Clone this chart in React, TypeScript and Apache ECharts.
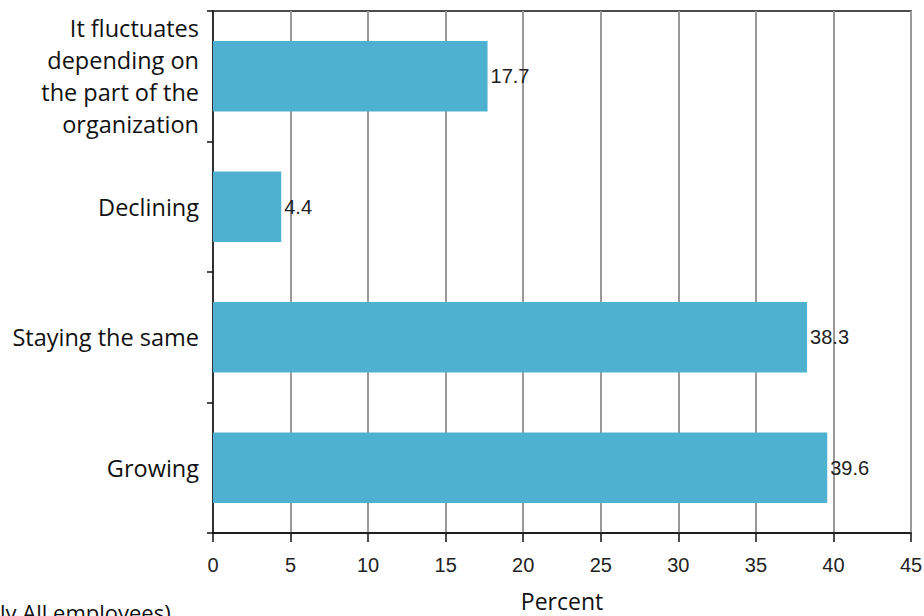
import React, { useEffect, useRef } from "react";
import * as echarts from "echarts";

const categories = [
  "Growing",
  "Staying the same",
  "Declining",
  "It fluctuates\ndepending on\nthe part of the\norganization",
];
const values = [39.6, 38.3, 4.4, 17.7];
const xTicks = { min: 0, max: 45, interval: 5 };
const axisTitle = "Percent";
const footnote = "ly All employees)";

export default function App() {
  const ref = useRef<HTMLDivElement>(null);
  useEffect(() => {
    document.body.style.margin = "0";
    const chart = echarts.init(ref.current!, null, { renderer: "svg" });
    chart.setOption({
      animation: false,
      backgroundColor: "#fff",
      grid: {
        left: 213,
        right: 13,
        top: 11,
        bottom: 83,
        containLabel: false,
        outerBoundsMode: "none",
        show: true,
        borderColor: "#111",
        borderWidth: 1.5,
      },
      xAxis: {
        type: "value",
        min: xTicks.min,
        max: xTicks.max,
        interval: xTicks.interval,
        name: axisTitle,
        nameLocation: "middle",
        nameGap: 56,
        nameTextStyle: { fontFamily: "Open Sans", fontSize: 23, color: "#111" },
        axisLine: { show: true, lineStyle: { color: "#111", width: 1.5 } },
        axisTick: { show: true, length: 9, lineStyle: { color: "#111", width: 1.5 } },
        axisLabel: {
          fontFamily: "Liberation Sans",
          fontSize: 20,
          color: "#222",
          margin: 22,
        },
        splitLine: { show: true, lineStyle: { color: "#999", width: 2 } },
      },
      yAxis: {
        type: "category",
        data: categories,
        axisLine: { show: true, lineStyle: { color: "#111", width: 1.5 } },
        axisTick: { show: true, length: 6, lineStyle: { color: "#111", width: 1.5 } },
        axisLabel: {
          fontFamily: "Open Sans",
          fontSize: 23.5,
          color: "#111",
          margin: 14,
          lineHeight: 32,
          align: "right",
        },
        splitLine: { show: false },
      },
      series: [
        {
          type: "bar",
          data: values,
          barWidth: "54%",
          itemStyle: { color: "#4FB1D0" },
          label: {
            show: true,
            position: "right",
            distance: 3,
            fontFamily: "Liberation Sans",
            fontSize: 20,
            color: "#222",
          },
        },
      ],
      graphic: [
        {
          type: "text",
          left: 0,
          top: 601,
          style: {
            text: footnote,
            fontFamily: "Open Sans",
            fontSize: 22,
            fill: "#111",
          },
        },
      ],
    });
    return () => chart.dispose();
  }, []);
  return (
    <div
      ref={ref}
      style={{ position: "fixed", left: 0, top: 0, width: 924, height: 616 }}
    />
  );
}
